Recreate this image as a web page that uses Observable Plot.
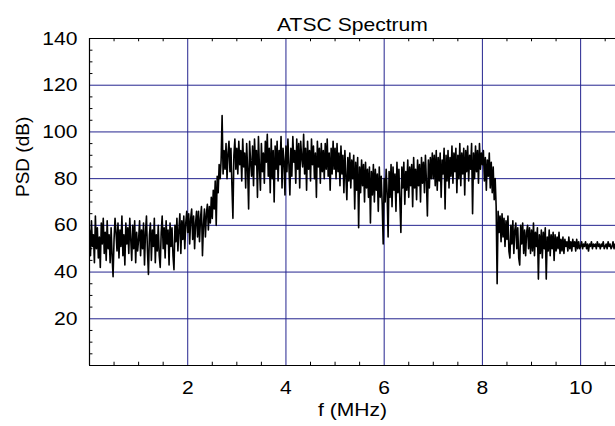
<!DOCTYPE html>
<html>
<head>
<meta charset="utf-8">
<script src="https://cdn.jsdelivr.net/npm/d3@7"></script>
<script src="https://cdn.jsdelivr.net/npm/@observablehq/plot@0.6"></script>
<style>
  html, body { margin: 0; padding: 0; background: white; }
</style>
</head>
<body>
<div id="chart"></div>
<script>
const title = "ATSC Spectrum";
const xLabel = "f (MHz)";
const yLabel = "PSD (dB)";
const xTicks = [2, 4, 6, 8, 10];
const yTicks = [20, 40, 60, 80, 100, 120, 140];
const yGrid = [20, 40, 60, 80, 100, 120];
const xMinor = [0.5, 1, 1.5, 2.5, 3, 3.5, 4.5, 5, 5.5, 6.5, 7, 7.5, 8.5, 9, 9.5, 10.5];
const yMinor = [5, 10, 15, 25, 30, 35, 45, 50, 55, 65, 70, 75, 85, 90, 95, 105, 110, 115, 125, 130, 135];
const freqStep = 0.02; // MHz between spectrum bins
// PSD values (dB), one per 0.02 MHz bin, starting at 0 MHz
const psd0 = [58,47,62,51,56,44,64,50,59,46,55,42,61,52,63,48,57,45,62,50,
              56,44,59,47,38,54,63,57,49,61,46,58,51,64,47,56,43,61,52,59,
              48,63,54,45,60,50,62,44,57,49];
const psd1 = [54,62,47,58,50,61,43,57,64,49,39,56,61,45,58,51,63,44,56,49,
              60,47,42,57,64,50,59,46,62,52,58,43,61,51,59,47,41,60,53,63,
              49,58,65,48,62,54,64,50,61,66];
const psd2 = [57,65,52,63,67,54,64,50,61,66,55,66,53,63,68,47,60,67,55,65,
              69,58,68,61,72,63,75,67,79,60,81,74,86,80,88,107,82,92,84,95,
              80,91,96,83,93,77,63,90,97,84];
const psd3 = [93,82,96,86,92,79,97,85,91,76,95,84,67,96,87,81,94,77,97,86,
              92,72,98,85,75,95,83,91,78,96,87,99,81,93,74,97,80,92,70,94,
              84,96,79,92,86,98,76,93,88,73];
const psd4 = [94,83,97,86,73,93,81,98,87,92,78,97,84,95,76,96,89,85,99,82,
              93,75,96,84,92,79,97,86,94,80,91,72,96,85,93,78,95,83,92,80,
              95,84,97,81,91,75,93,82,96,84];
const psd5 = [93,80,95,83,91,77,94,82,90,74,92,81,71,89,79,91,76,88,80,90,
              67,87,75,89,59,85,74,88,77,86,70,87,76,84,72,85,61,83,73,86,
              70,84,75,82,66,85,72,81,69,52];
const psd6 = [80,70,84,74,55,83,72,86,68,85,75,82,66,87,74,84,70,57,85,76,
              87,69,83,75,88,72,85,77,86,68,89,76,84,71,88,77,86,70,89,78,
              87,74,90,79,64,88,76,89,80,91];
const psd7 = [80,90,77,92,75,89,79,91,72,88,82,93,67,90,79,92,76,89,81,94,
              78,91,83,93,74,90,80,95,77,91,82,93,73,92,83,94,79,90,84,95,
              65,91,80,94,83,92,78,95,84,91];
const psd8 = [86,92,79,89,75,88,81,91,76,87,74,85,71,80,68,35,66,57,64,53,
              65,55,63,51,62,54,64,49,46,60,52,62,48,58,61,50,59,46,43,60,
              52,61,48,58,47,57,60,50,59,48];
const psd9 = [58,49,61,47,57,51,59,37,56,48,58,46,57,50,59,37,55,49,58,47,
              56,50,57,45,56,49,55,50,57,48,54,49,55,48,54,51,53,49,55,50,
              53,49,54,51,53,49,54,50,53,50];
const psd10 = [51,53,50,52,51,53,50,52,49,52,51,53,50,52,51,52,50,53,51,52,
               50,52,51,53,50,51,52,50,53,51,52,50,51,53,50,52];

const psd = [...psd0, ...psd1, ...psd2, ...psd3, ...psd4, ...psd5, ...psd6, ...psd7, ...psd8, ...psd9, ...psd10];
const data = psd.map((v, i) => ({f: +(i * freqStep).toFixed(2), psd: v}));

const gridColor = "#24248f";
const font = "'Liberation Sans', Arial, Helvetica, sans-serif";
const fs = 19;
const stretch = 1.11; // reference text is slightly wide

const chart = Plot.plot({
  width: 615,
  height: 426,
  marginLeft: 89,
  marginRight: 0,
  marginTop: 38,
  marginBottom: 61,
  style: {fontFamily: font, fontSize: fs + "px", background: "white", color: "black"},
  x: {domain: [0, 10.71], axis: null},
  y: {domain: [0, 140], axis: null},
  marks: [
    Plot.ruleX(xTicks, {stroke: gridColor, strokeWidth: 1}),
    Plot.ruleY(yGrid, {stroke: gridColor, strokeWidth: 1}),
    Plot.line(data, {x: "f", y: "psd", stroke: "black", strokeWidth: 1.6, clip: true}),
    Plot.ruleY([0, 140], {stroke: "black", strokeWidth: 1.2}),
    Plot.ruleX([0], {stroke: "black", strokeWidth: 1.2}),
    Plot.ruleX(xMinor, {y1: 0, y2: 1.4, stroke: "black"}),
    Plot.ruleX(xMinor, {y1: 140, y2: 138.6, stroke: "black"}),
    Plot.ruleY(yMinor, {x1: 0, x2: 0.07, stroke: "black"}),
    Plot.axisX({ticks: xTicks, tickSize: 0, tickPadding: 15, label: null, fontSize: fs}),
    Plot.axisY({ticks: yTicks, tickSize: 0, tickPadding: 12, label: null, fontSize: fs}),
    Plot.text([xLabel], {frameAnchor: "bottom", dy: 50, fontSize: fs}),
    Plot.text([yLabel], {frameAnchor: "left", dx: -67, dy: -5, rotate: -90, fontSize: fs}),
    Plot.text([title], {frameAnchor: "top", dy: -21, fontSize: fs})
  ]
});
document.getElementById("chart").appendChild(chart);
// widen horizontal texts slightly to match the reference's proportions
chart.querySelectorAll("text").forEach(t => {
  const tr = t.getAttribute("transform") || "";
  if (tr.includes("rotate")) return;
  const len = t.getComputedTextLength();
  if (len > 0) {
    t.setAttribute("textLength", (len * stretch).toFixed(1));
    t.setAttribute("lengthAdjust", "spacingAndGlyphs");
  }
});
</script>
</body>
</html>
